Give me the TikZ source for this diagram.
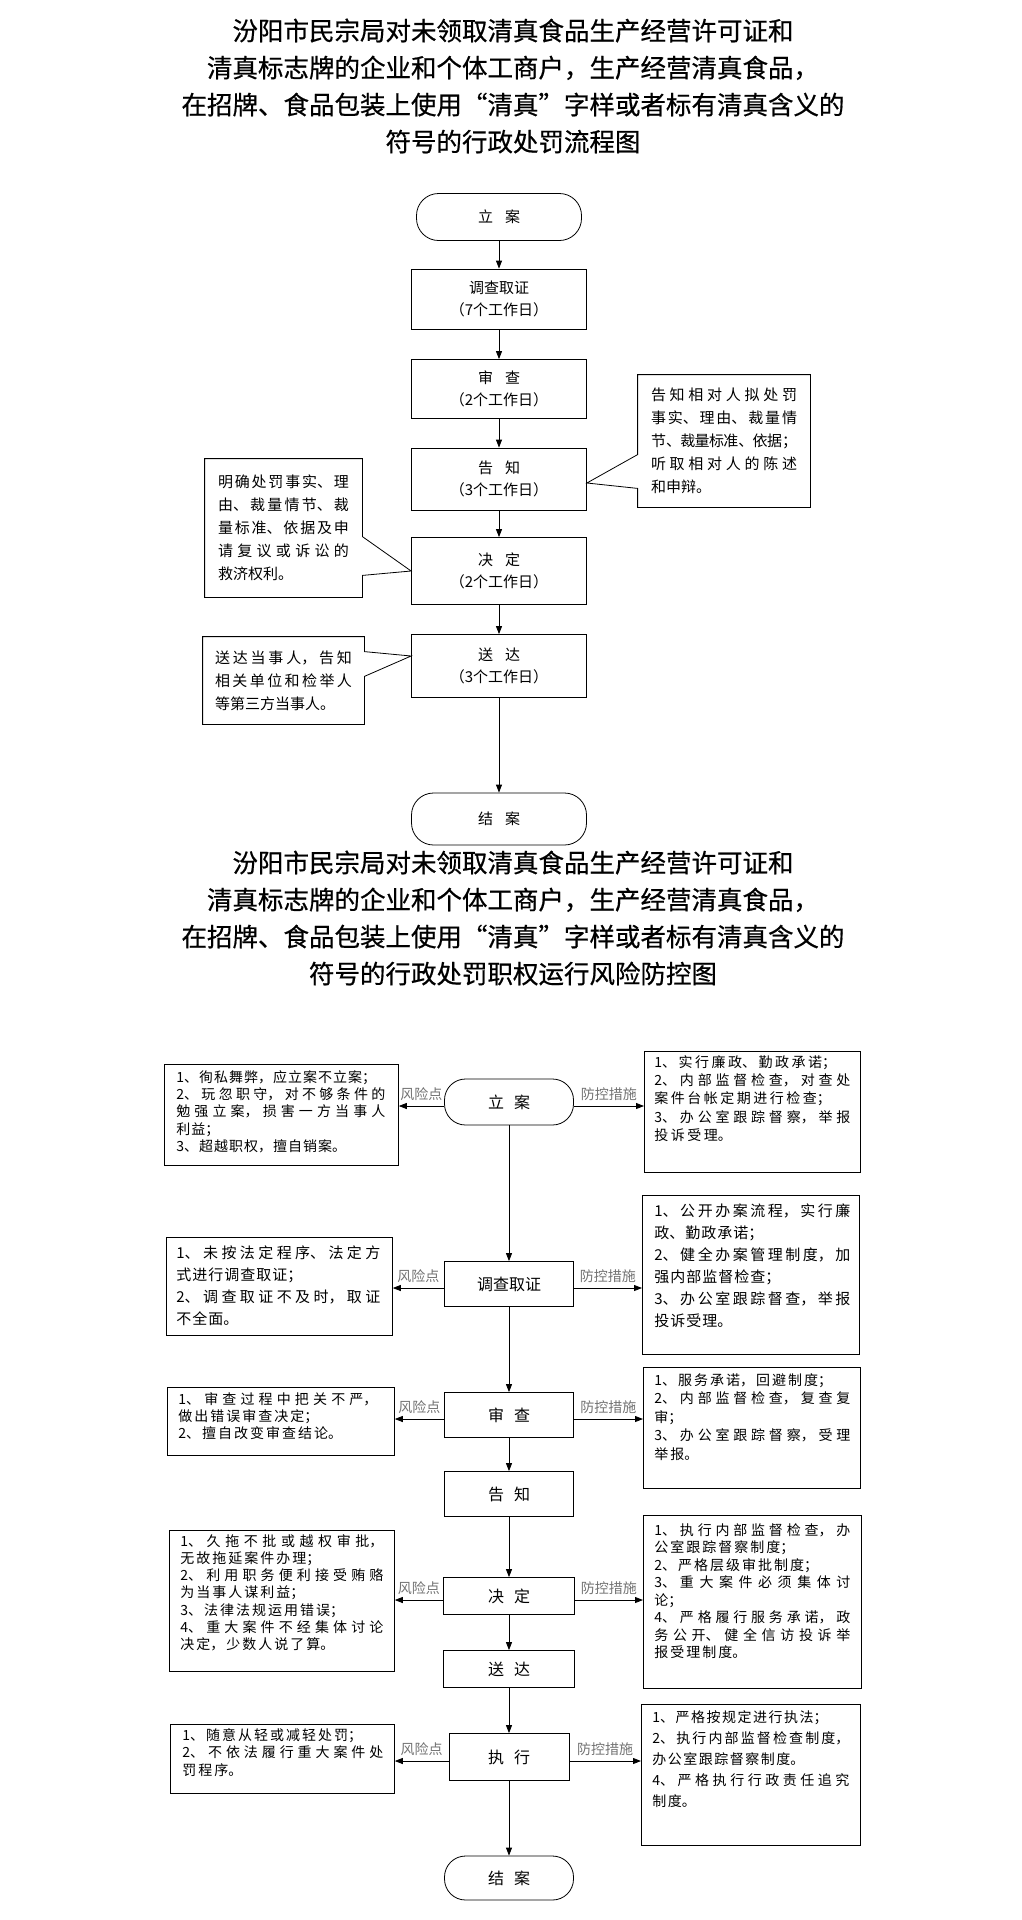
\documentclass[tikz,border=0pt]{standalone}
\usepackage{fontspec}
\setmainfont{Noto Sans CJK SC}
\newfontfamily\titlefont{Noto Sans CJK SC}[FakeBold=0.6]
\usetikzlibrary{arrows.meta}

\XeTeXlinebreaklocale "zh"
\XeTeXlinebreakskip=0pt plus 8pt minus 1pt
\setlength{\parindent}{0pt}

% size, leading and letter gap of the lists
\newcommand{\listfont}[3]{\fontsize{#1}{#2}\selectfont\XeTeXlinebreakskip=#3pt plus 8pt minus 1.5pt\relax}

\begin{document}
\begin{tikzpicture}[x=1pt, y=-1pt, line width=0.8pt,
    arr/.style={-{Triangle[length=8pt, width=6pt]}},
    heading/.style={align=center, inner sep=0pt, font=\titlefont\fontsize{25.5}{37}\selectfont},
    flowbox/.style={draw, minimum width=175pt, inner sep=0pt, align=center, font=\fontsize{15}{22}\selectfont},
    endbox/.style={flowbox, rounded corners=22pt},
    notebox/.style={inner sep=0pt, align=justify, font=\fontsize{15}{23}\selectfont},
    stepnode/.style={draw, minimum width=129pt, inner sep=0pt, font=\fontsize{16}{18}\selectfont},
    stopnode/.style={stepnode, rounded corners=21pt},
    listframe/.style={draw, inner sep=0pt, anchor=north west},
    listtext/.style={inner sep=0pt, anchor=north west, align=justify},
    linktag/.style={midway, above=5pt, inner sep=0pt, text=black!55, font=\fontsize{14}{16}\selectfont}]

    \fill[white] (0,0) rectangle (1022,1920);
    \useasboundingbox (0,0) rectangle (1022,1920);

    % Title of the first chart:
    \node[heading] (title1) at (513,86) {汾阳市民宗局对未领取清真食品生产经营许可证和\\清真标志牌的企业和个体工商户，生产经营清真食品，\\在招牌、食品包装上使用“清真”字样或者标有清真含义的\\符号的行政处罚流程图};

    % Steps:
    \node[endbox, minimum width=165pt, minimum height=47pt] (start) at (499,217) {立\hspace{12pt}案};
    \node[flowbox, minimum height=60pt] (survey) at (499,299) {调查取证\\（7个工作日）};
    \node[flowbox, minimum height=59pt] (review) at (499,389) {审\hspace{12pt}查\\（2个工作日）};
    \node[flowbox, minimum height=62pt] (notify) at (499,479) {告\hspace{12pt}知\\（3个工作日）};
    \node[flowbox, minimum height=67pt] (decide) at (499,571) {决\hspace{12pt}定\\（2个工作日）};
    \node[flowbox, minimum height=63pt] (deliver) at (499,666) {送\hspace{12pt}达\\（3个工作日）};
    \node[endbox, minimum height=52pt] (finish) at (499,819) {结\hspace{12pt}案};

    \foreach \from/\to in {start/survey, survey/review, review/notify, notify/decide, decide/deliver, deliver/finish}
        \draw[arr] (\from) -- (\to);

    % Notes:
    \node[notebox, minimum width=172pt, minimum height=132pt, text width=146pt] (noteR) at (724,441) {告知相对人拟处罚\linebreak 事实、理由、裁量情\linebreak 节、裁量标准、依据；\linebreak 听取相对人的陈述\linebreak 和申辩。};
    \node[notebox, minimum width=157pt, minimum height=138pt, text width=131pt] (noteL1) at (283.5,528) {明确处罚事实、理\linebreak 由、裁量情节、裁\linebreak 量标准、依据及申\linebreak 请复议或诉讼的\linebreak 救济权利。};
    \node[notebox, minimum width=161pt, minimum height=87pt, text width=137pt] (noteL2) at (283.5,680.5) {送达当事人，告知\linebreak 相关单位和检举人\linebreak 等第三方当事人。};

    \draw (noteR.north west) -- (noteR.north east) -- (noteR.south east) -- (noteR.south west)
        -- ([yshift=19pt]noteR.south west) -- ([yshift=-4pt]notify.east) -- ([yshift=-80pt]noteR.north west) -- cycle;
    \draw (noteL1.north east) -- (noteL1.north west) -- (noteL1.south west) -- (noteL1.south east)
        -- ([yshift=22pt]noteL1.south east) -- (decide.west) -- ([yshift=-78pt]noteL1.north east) -- cycle;
    \draw (noteL2.north east) -- (noteL2.north west) -- (noteL2.south west) -- (noteL2.south east)
        -- ([yshift=48pt]noteL2.south east) -- ([yshift=10pt]deliver.west) -- ([yshift=-15pt]noteL2.north east) -- cycle;

    % Title of the second chart:
    \node[heading] (title2) at (513,918) {汾阳市民宗局对未领取清真食品生产经营许可证和\\清真标志牌的企业和个体工商户，生产经营清真食品，\\在招牌、食品包装上使用“清真”字样或者标有清真含义的\\符号的行政处罚职权运行风险防控图};

    % Steps:
    \node[stopnode, minimum height=46pt] (start2) at (509,1102) {立\hspace{10pt}案};
    \node[stepnode, minimum height=45pt] (survey2) at (509,1284) {调查取证};
    \node[stepnode, minimum height=45pt] (review2) at (509,1415) {审\hspace{10pt}查};
    \node[stepnode, minimum height=45pt] (notify2) at (509,1494) {告\hspace{10pt}知};
    \node[stepnode, minimum width=131pt, minimum height=37pt] (decide2) at (509,1596) {决\hspace{10pt}定};
    \node[stepnode, minimum width=131pt, minimum height=37pt] (deliver2) at (509,1669) {送\hspace{10pt}达};
    \node[stepnode, minimum width=120pt, minimum height=47pt] (execute2) at (509,1757) {执\hspace{10pt}行};
    \node[stopnode, minimum height=44pt] (finish2) at (509,1878) {结\hspace{10pt}案};

    \foreach \from/\to in {start2/survey2, survey2/review2, review2/notify2, notify2/decide2, decide2/deliver2, deliver2/execute2, execute2/finish2}
        \draw[arr] (\from) -- (\to);

    % Risk points:
    \node[listframe, minimum width=234pt, minimum height=101pt] (risk1) at (164,1064) {};
    \node[listtext, text width=209pt, font=\listfont{14}{17.3}{1}] (risk1text) at ([shift={(12,6)}]risk1.north west) {1、徇私舞弊，应立案不立案；\\2、玩忽职守，对不够条件的\linebreak 勉强立案，损害一方当事人\linebreak 利益；\\3、超越职权，擅自销案。};
    \node[listframe, minimum width=226pt, minimum height=98pt] (risk2) at (166,1237) {};
    \node[listtext, text width=204pt, font=\listfont{15}{22}{1}] (risk2text) at ([shift={(10,8.5)}]risk2.north west) {1、未按法定程序、法定方\linebreak 式进行调查取证；\\2、调查取证不及时，取证\linebreak 不全面。};
    \node[listframe, minimum width=227pt, minimum height=68pt] (risk3) at (167,1387) {};
    \node[listtext, text width=199pt, font=\listfont{14}{17}{2}] (risk3text) at ([shift={(11,5)}]risk3.north west) {1、审查过程中把关不严，\linebreak 做出错误审查决定；\\2、擅自改变审查结论。};
    \node[listframe, minimum width=225pt, minimum height=141pt] (risk4) at (169,1530) {};
    \node[listtext, text width=203pt, font=\listfont{14}{17.2}{2}] (risk4text) at ([shift={(11,4)}]risk4.north west) {1、久拖不批或越权审批，\linebreak 无故拖延案件办理；\\2、利用职务便利接受贿赂\linebreak 为当事人谋利益；\\3、法律法规运用错误；\\4、重大案件不经集体讨论\linebreak 决定，少数人说了算。};
    \node[listframe, minimum width=224pt, minimum height=69pt] (risk5) at (170,1724) {};
    \node[listtext, text width=201pt, font=\listfont{14}{17.5}{2}] (risk5text) at ([shift={(12,4)}]risk5.north west) {1、随意从轻或减轻处罚；\\2、不依法履行重大案件处\linebreak 罚程序。};

    % Control measures:
    \node[listframe, minimum width=216pt, minimum height=121pt] (measure1) at (644,1051) {};
    \node[listtext, text width=196pt, font=\listfont{14}{18.3}{2.5}] (measure1text) at ([shift={(10,4)}]measure1.north west) {1、实行廉政、勤政承诺；\\2、内部监督检查，对查处\linebreak 案件台帐定期进行检查；\\3、办公室跟踪督察，举报\linebreak 投诉受理。};
    \node[listframe, minimum width=217pt, minimum height=159pt] (measure2) at (642,1195) {};
    \node[listtext, text width=196pt, font=\listfont{15}{22}{1}] (measure2text) at ([shift={(12,8.5)}]measure2.north west) {1、公开办案流程，实行廉\linebreak 政、勤政承诺；\\2、健全办案管理制度，加\linebreak 强内部监督检查；\\3、办公室跟踪督查，举报\linebreak 投诉受理。};
    \node[listframe, minimum width=217pt, minimum height=121pt] (measure3) at (643,1367) {};
    \node[listtext, text width=196pt, font=\listfont{14}{18.5}{2}] (measure3text) at ([shift={(11,6)}]measure3.north west) {1、服务承诺，回避制度；\\2、内部监督检查，复查复\linebreak 审；\\3、办公室跟踪督察，受理\linebreak 举报。};
    \node[listframe, minimum width=218pt, minimum height=173pt] (measure4) at (643,1515) {};
    \node[listtext, text width=196pt, font=\listfont{14}{17.5}{2}] (measure4text) at ([shift={(11,8)}]measure4.north west) {1、执行内部监督检查，办\linebreak 公室跟踪督察制度；\\2、严格层级审批制度；\\3、 重大案件必须集体讨\linebreak 论；\\4、严格履行服务承诺，政\linebreak 务公开、健全信访投诉举\linebreak 报受理制度。};
    \node[listframe, minimum width=219pt, minimum height=141pt] (measure5) at (641,1704) {};
    \node[listtext, text width=197pt, font=\listfont{14}{21}{1.5}] (measure5text) at ([shift={(11,6)}]measure5.north west) {1、严格按规定进行执法；\\2、执行内部监督检查制度，\linebreak 办公室跟踪督察制度。\\4、严格执行行政责任追究\linebreak 制度。};

    % Links to the lists:
    \foreach \step/\n in {start2/1, survey2/2, review2/3, decide2/4, execute2/5} {
        \coordinate (rs\n) at ([yshift=-4pt]\step.west);
        \coordinate (ms\n) at ([yshift=-4pt]\step.east);
        \draw[arr] (rs\n) -- (rs\n -| risk\n.east) node[linktag] {风险点};
        \draw[arr] (ms\n) -- (ms\n -| measure\n.west) node[linktag] {防控措施};
    }
\end{tikzpicture}
\end{document}
